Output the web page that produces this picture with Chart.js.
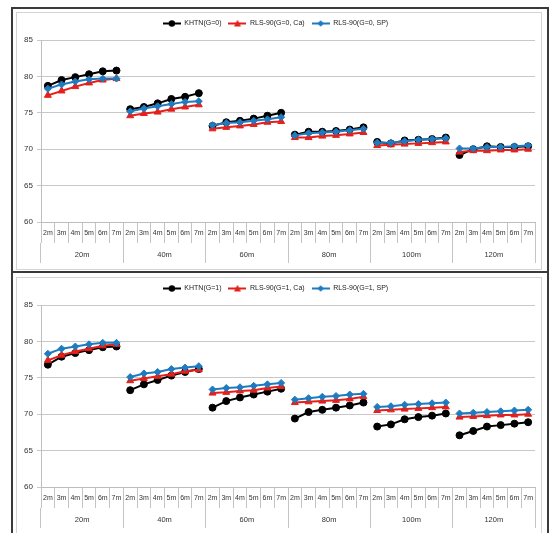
<!DOCTYPE html>
<html><head><meta charset="utf-8">
<script src="https://cdn.jsdelivr.net/npm/chart.js@4/dist/chart.umd.min.js"></script>
<style>
html,body{margin:0;padding:0;background:#fff;}
body{width:549px;height:533px;position:relative;overflow:hidden;font-family:"Liberation Sans",Arial,sans-serif;}
.outer{position:absolute;left:11px;top:7px;width:534px;height:540px;border:2px solid #3a3a3a;border-bottom:none;}
.sep{position:absolute;left:11px;top:271px;width:538px;height:2px;background:#3a3a3a;}
.inner{position:absolute;border:1px solid #d4d4d4;}
canvas{position:absolute;}
</style></head>
<body>
<div class="outer"></div>
<div class="sep"></div>
<div class="inner" style="left:16px;top:12px;width:524px;height:256px;"></div>
<div class="inner" style="left:16px;top:277px;width:524px;height:270px;"></div>
<canvas id="c0" width="525" height="255" style="left:16px;top:13px;"></canvas>
<canvas id="c1" width="525" height="255" style="left:16px;top:278px;"></canvas>
<script>
const heights = ['2m','3m','4m','5m','6m','7m'];
const distances = ['20m','40m','60m','80m','100m','120m'];

// G = 0
const khtnG0 = [78.7,79.5,79.9,80.3,80.7,80.8, 75.5,75.8,76.3,76.9,77.2,77.7, 73.2,73.7,73.9,74.2,74.6,75.0, 72.0,72.4,72.4,72.5,72.7,73.0, 71.0,70.8,71.2,71.3,71.4,71.6, 69.2,70.0,70.4,70.3,70.3,70.4];
const caG0   = [77.4,78.0,78.6,79.1,79.5,79.7, 74.6,74.9,75.1,75.5,75.8,76.1, 72.8,73.0,73.2,73.4,73.7,73.8, 71.6,71.6,71.8,71.9,72.1,72.3, 70.5,70.6,70.7,70.8,70.9,71.0, 69.6,69.8,69.8,69.9,69.9,70.0];
const spG0   = [78.3,78.9,79.3,79.6,79.7,79.7, 75.2,75.6,75.9,76.2,76.5,76.6, 73.3,73.6,73.7,73.9,74.1,74.4, 71.9,72.2,72.3,72.4,72.6,72.8, 70.9,70.9,71.1,71.3,71.4,71.5, 70.1,70.1,70.3,70.3,70.4,70.5];
// G = 1
const khtnG1 = [76.8,77.9,78.4,78.8,79.2,79.3, 73.3,74.1,74.7,75.3,75.8,76.2, 70.9,71.8,72.3,72.7,73.1,73.5, 69.4,70.3,70.6,70.9,71.2,71.6, 68.3,68.6,69.3,69.6,69.8,70.1, 67.1,67.7,68.3,68.5,68.7,68.9];
const caG1   = [77.4,78.1,78.6,79.0,79.4,79.6, 74.6,74.9,75.2,75.5,75.9,76.1, 72.9,73.0,73.2,73.3,73.6,73.8, 71.6,71.7,71.8,71.9,72.1,72.4, 70.5,70.6,70.7,70.8,70.9,71.0, 69.6,69.7,69.8,69.9,69.9,70.0];
const spG1   = [78.3,79.0,79.3,79.6,79.8,79.8, 75.1,75.6,75.8,76.2,76.4,76.6, 73.4,73.6,73.7,73.9,74.1,74.3, 72.0,72.2,72.4,72.5,72.7,72.8, 71.0,71.1,71.3,71.4,71.5,71.6, 70.1,70.2,70.3,70.4,70.5,70.6];

const seriesNamesG0 = ['KHTN(G=0)','RLS-90(G=0, Ca)','RLS-90(G=0, SP)'];
const seriesNamesG1 = ['KHTN(G=1)','RLS-90(G=1, Ca)','RLS-90(G=1, SP)'];

const COLORS = ['#000000','#e3201b','#1f7bc0'];
const STYLES = ['circle','triangle','rectRot'];
const RADII = [3.5,4,3.5];
const FONT = '"Liberation Sans", Arial, sans-serif';

function makeIcon(i){
  const c = document.createElement('canvas');
  c.width = 18; c.height = 9;
  const g = c.getContext('2d');
  g.strokeStyle = COLORS[i]; g.lineWidth = 2;
  g.beginPath(); g.moveTo(0,4.5); g.lineTo(18,4.5); g.stroke();
  g.fillStyle = COLORS[i];
  g.beginPath();
  if (i === 0) { g.arc(9,4.5,3.2,0,Math.PI*2); }
  else if (i === 1) { g.moveTo(9,0.8); g.lineTo(12.5,7.5); g.lineTo(5.5,7.5); g.closePath(); }
  else { g.moveTo(9,1.3); g.lineTo(12.2,4.5); g.lineTo(9,7.7); g.lineTo(5.8,4.5); g.closePath(); }
  g.fill();
  return c;
}
const icons = [makeIcon(0), makeIcon(1), makeIcon(2)];

const legendSpacer = {
  id: 'legendSpacer',
  beforeInit(chart) {
    const fit = chart.legend.fit;
    chart.legend.fit = function() { fit.bind(chart.legend)(); this.height += 3; };
  }
};

function build(id, names, series) {
  const labels = distances.flatMap(() => heights);
  const datasets = series.map((vals, i) => ({
    label: names[i],
    data: vals,
    borderColor: COLORS[i],
    backgroundColor: COLORS[i],
    pointBackgroundColor: COLORS[i],
    pointBorderColor: COLORS[i],
    pointStyle: STYLES[i],
    pointRadius: RADII[i],
    pointBorderWidth: 1,
    borderWidth: 2,
    tension: 0,
    order: 2 - i,
    segment: {
      borderColor: ctx => (ctx.p0DataIndex % heights.length === heights.length - 1) ? 'rgba(0,0,0,0)' : undefined
    }
  }));
  new Chart(document.getElementById(id), {
    type: 'line',
    data: { labels, datasets },
    plugins: [legendSpacer],
    options: {
      responsive: false,
      animation: false,
      events: [],
      layout: { padding: { left: 0, right: 6, top: 0, bottom: 5 } },
      plugins: {
        tooltip: { enabled: false },
        legend: {
          position: 'top',
          labels: {
            usePointStyle: true,
            pointStyleWidth: 18,
            padding: 7,
            color: '#222',
            font: { family: FONT, size: 7 },
            sort: (a, b) => a.datasetIndex - b.datasetIndex,
            generateLabels(chart) {
              const items = Chart.defaults.plugins.legend.labels.generateLabels(chart);
              items.forEach(it => { it.pointStyle = icons[it.datasetIndex]; });
              return items;
            }
          }
        }
      },
      scales: {
        y: {
          min: 60, max: 85,
          ticks: { stepSize: 5, color: '#333', font: { family: FONT, size: 8 }, padding: 4 },
          grid: { color: '#c8c8c8', tickLength: 4, lineWidth: 1 },
          border: { color: '#bdbdbd' },
          afterFit(s) { s.width = 25; }
        },
        x: {
          type: 'category',
          offset: true,
          ticks: { autoSkip: false, maxRotation: 0, color: '#333', font: { family: FONT, size: 7 }, padding: -14 },
          grid: { offset: true, drawOnChartArea: false, tickLength: 21, color: '#c4c4c4' },
          border: { color: '#bdbdbd' },
          afterFit(s) { s.height = 21; }
        },
        x2: {
          type: 'category',
          position: 'bottom',
          labels: distances,
          offset: true,
          ticks: { autoSkip: false, maxRotation: 0, color: '#333', font: { family: FONT, size: 7.5 }, padding: -12.5 },
          grid: { offset: true, drawOnChartArea: false, tickLength: 20, color: '#c4c4c4' },
          border: { display: false },
          afterFit(s) { s.height = 20; }
        }
      }
    }
  });
}

build('c0', seriesNamesG0, [khtnG0, caG0, spG0]);
build('c1', seriesNamesG1, [khtnG1, caG1, spG1]);
</script>
</body></html>
